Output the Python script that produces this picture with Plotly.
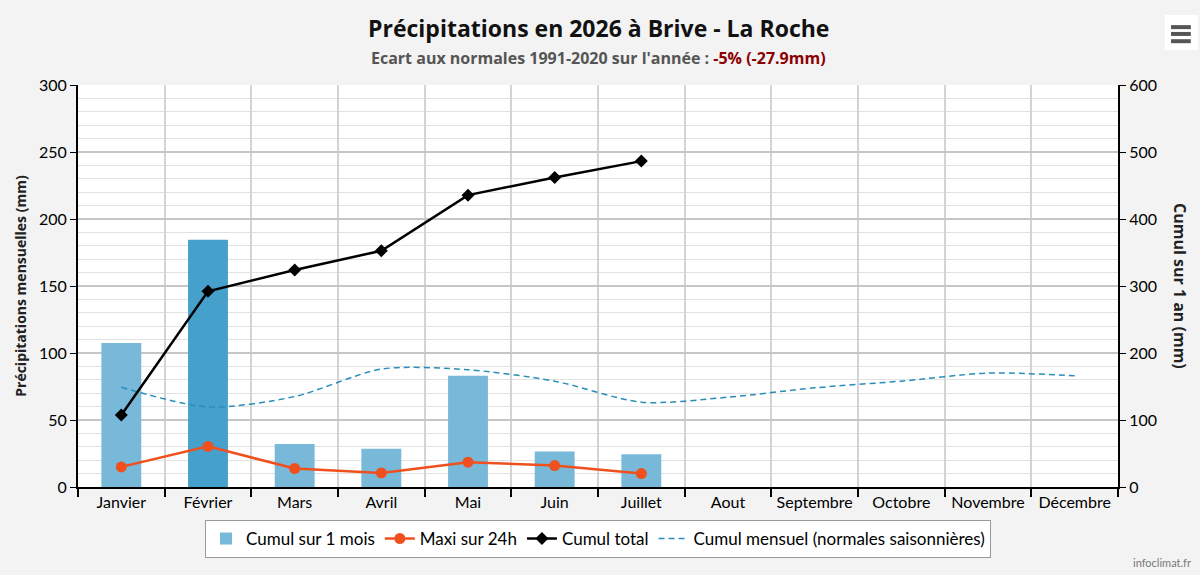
import plotly.graph_objects as go

months = ["Janvier", "Février", "Mars", "Avril", "Mai", "Juin", "Juillet",
          "Aout", "Septembre", "Octobre", "Novembre", "Décembre"]
cumul_mois = [107.5, 184.5, 32, 28.6, 83, 26.4, 24.4]
maxi_24h = [15, 30.3, 13.8, 10.5, 18.5, 16, 10]
cumul_total = [107.5, 292, 324, 352.6, 435.6, 462, 486.4]
normales = [74.4, 59.8, 67.5, 88, 87.5, 79, 63.3, 67, 74, 79, 85, 83]
bar_colors = ["#78b8d9", "#45a0cc", "#78b8d9", "#78b8d9", "#78b8d9", "#78b8d9", "#78b8d9"]

FONT = "Lato"
TFONT = "Open Sans"

fig = go.Figure()
fig.add_trace(go.Bar(
    x=months[:len(cumul_mois)], y=cumul_mois, name="Cumul sur 1 mois",
    marker=dict(color=bar_colors, line=dict(width=0)), width=0.46,
))
fig.add_trace(go.Scatter(
    x=months[:len(maxi_24h)], y=maxi_24h, name="Maxi sur 24h", mode="lines+markers",
    line=dict(color="#f0501e", width=2.5), marker=dict(symbol="circle", size=11, color="#f0501e"),
))
fig.add_trace(go.Scatter(
    x=months[:len(cumul_total)], y=cumul_total, name="Cumul total", mode="lines+markers",
    yaxis="y2", line=dict(color="#000000", width=2.5),
    marker=dict(symbol="diamond", size=10, color="#000000"),
))
fig.add_trace(go.Scatter(
    x=months, y=normales, name="Cumul mensuel (normales saisonnières)", mode="lines",
    line=dict(color="#2a8db8", width=1.5, dash="6px,4px", shape="spline", smoothing=0.8),
))

fig.update_layout(
    width=1200, height=575,
    margin=dict(l=78, r=82, t=85, b=88),
    paper_bgcolor="#f3f3f3", plot_bgcolor="#ffffff",
    font=dict(family=FONT, size=16, color="#000000"),
    xaxis=dict(
        type="category", categoryorder="array", categoryarray=months,
        range=[-0.5, 11.5],
        showgrid=True, gridcolor="#d4d4d4", gridwidth=2, tickson="boundaries",
        showline=True, linecolor="#000000", linewidth=2,
        ticks="outside", ticklen=8, tickcolor="#000000", tickwidth=1.5,
        tickfont=dict(size=16, family=FONT), zeroline=False,
    ),
    yaxis=dict(
        range=[0, 300], dtick=50, showgrid=True, gridcolor="#c6c6c6", gridwidth=1.5,
        minor=dict(dtick=10, showgrid=True, gridcolor="#e2e2e2", gridwidth=1),
        showline=True, linecolor="#000000", linewidth=2,
        ticks="outside", ticklen=6, tickcolor="#000000",
        tickfont=dict(size=16, family=FONT), zeroline=False,
    ),
    yaxis2=dict(
        range=[0, 600], dtick=100, overlaying="y", side="right", showgrid=False,
        showline=True, linecolor="#000000", linewidth=2,
        ticks="outside", ticklen=6, tickcolor="#000000",
        tickfont=dict(size=16, family=FONT), zeroline=False,
    ),
    legend=dict(
        orientation="h", x=0.5, xanchor="center", y=-0.082, yanchor="top",
        bgcolor="#ffffff", bordercolor="#999999", borderwidth=1,
        font=dict(size=17, family=FONT), itemwidth=30, traceorder="normal",
    ),
    showlegend=True,
    annotations=[
        dict(text="<b>Précipitations en 2026 à Brive - La Roche</b>", xref="paper", yref="paper",
             x=0.5, y=1.142, xanchor="center", yanchor="middle", showarrow=False,
             font=dict(size=23, family=TFONT, color="#111111")),
        dict(text="<b><span style='color:#555555'>Ecart aux normales 1991-2020 sur l'année : </span>"
                  "<span style='color:#8b0000'>-5% (-27.9mm)</span></b>",
             xref="paper", yref="paper", x=0.5, y=1.068, xanchor="center", yanchor="middle",
             showarrow=False, font=dict(size=16, family=TFONT)),
        dict(text="<b>Précipitations mensuelles (mm)</b>", xref="paper", yref="paper",
             x=-0.056, y=0.5, textangle=-90, showarrow=False, xanchor="center", yanchor="middle",
             font=dict(size=14, family=TFONT, color="#222222")),
        dict(text="<b>Cumul sur 1 an (mm)</b>", xref="paper", yref="paper",
             x=1.0596, y=0.5, textangle=90, showarrow=False, xanchor="center", yanchor="middle",
             font=dict(size=16, family=TFONT, color="#222222")),
        dict(text="infoclimat.fr", xref="paper", yref="paper", x=1.072, y=-0.189,
             xanchor="right", yanchor="middle", showarrow=False,
             font=dict(size=11, family=FONT, color="#777777")),
    ],
    shapes=[
        dict(type="rect", xref="paper", yref="paper", x0=1.045, x1=1.077, y0=1.087, y1=1.174,
             fillcolor="#ffffff", line=dict(width=0)),
        dict(type="line", xref="paper", yref="paper", x0=1.051, x1=1.070, y0=1.144, y1=1.144,
             line=dict(color="#555555", width=4)),
        dict(type="line", xref="paper", yref="paper", x0=1.051, x1=1.070, y0=1.127, y1=1.127,
             line=dict(color="#555555", width=4)),
        dict(type="line", xref="paper", yref="paper", x0=1.051, x1=1.070, y0=1.109, y1=1.109,
             line=dict(color="#555555", width=4)),
    ],
)

fig.write_html("out.html", config={"displayModeBar": False},
               post_script="document.body.style.margin='0';")
